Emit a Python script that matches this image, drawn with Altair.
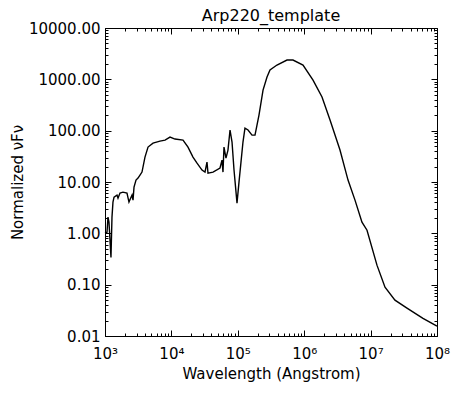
import altair as alt
import pandas as pd

# Spectrum
wavelength = [1000, 1072, 1109, 1148, 1230, 1274, 1318, 1368, 1517, 1570, 1683, 1866, 2143, 2296,
              2553, 2642, 2735, 2931, 3141, 3365, 3606, 4000, 4446, 5284, 6730, 8017, 9528, 11324,
              14962, 17783, 21135, 24322, 28907, 32063, 34356, 35563, 42364, 53951, 57810, 59841,
              61944, 66374, 71121, 76384, 81846, 87700, 97275, 104232, 111686, 119674, 128233,
              142561, 163682, 181551, 194536, 208449, 239883, 275423, 305492, 389045, 550808,
              677641, 959401, 1.358e6, 1.854e6, 2.449e6, 3.459e6, 4.571e6, 5.821e6, 7.413e6,
              8.831e6, 1.247e7, 1.648e7, 2.328e7, 3.532e7, 6.152e7, 1e8]
flux = [1.01, 1.05, 2.07, 1.65, 0.34, 2.07, 4.06, 5.08, 5.56, 4.85, 6.08, 6.35, 6.08, 4.06,
        5.56, 4.44, 7.96, 10.9, 11.9, 13.6, 15.6, 30.6, 47.9, 57.3, 62.7, 65.6, 75.0, 68.6,
        65.6, 47.9, 30.6, 23.3, 17.1, 15.6, 24.4, 14.9, 15.6, 18.7, 26.7, 15.6,
        47.9, 29.2, 41.9, 103, 60, 17.1, 3.88, 9.95, 24.4, 60, 112,
        103, 82, 82, 128, 201, 618, 1109, 1517, 1900, 2380,
        2380, 1900, 968, 452, 161, 41.9, 10.9, 4.44, 1.65,
        1.15, 0.24, 0.089, 0.050, 0.035, 0.022, 0.0155]

x_major = [1e3, 1e4, 1e5, 1e6, 1e7, 1e8]
x_labels = ["10³", "10⁴", "10⁵", "10⁶", "10⁷", "10⁸"]
y_major = [0.01, 0.1, 1, 10, 100, 1000, 10000]
x_minor = [k * 10.0 ** d for d in range(3, 8) for k in range(2, 10)]
y_minor = [k * 10.0 ** d for d in range(-2, 4) for k in range(2, 10)]

W, H = 332, 308
FONT = "DejaVu Sans"
MAJ, MIN = 6, 3  # inward tick lengths (px), drawn as dashed grid lines

xscale = alt.Scale(type="log", domain=[1e3, 1e8], nice=False)
yscale = alt.Scale(type="log", domain=[0.01, 10000], nice=False)

label_arr = "[" + ",".join(f"'{l}'" for l in x_labels) + "]"
is_major = "abs(log(datum.value)/LN10 - round(log(datum.value)/LN10)) < 0.001"

df = pd.DataFrame({"wavelength": wavelength, "flux": flux})


def tick_dash(length):
    return {"condition": {"test": is_major, "value": [MAJ, length - 2 * MAJ, MAJ]},
            "value": [MIN, length - 2 * MIN, MIN]}


# first layer: grid-only axes whose short dashes are the inward ticks (all four sides)
ticks = alt.Chart(df).mark_line(strokeOpacity=0).encode(
    x=alt.X("wavelength:Q", scale=xscale,
            axis=alt.Axis(values=x_major + x_minor, title=None, labels=False, domain=False,
                          ticks=False, grid=True, gridColor="black", gridOpacity=1,
                          gridWidth=1, gridDash=tick_dash(H), orient="top")),
    y=alt.Y("flux:Q", scale=yscale,
            axis=alt.Axis(values=y_major + y_minor, title=None, labels=False, domain=False,
                          ticks=False, grid=True, gridColor="black", gridOpacity=1,
                          gridWidth=1, gridDash=tick_dash(W), orient="right")),
)

common = dict(ticks=False, grid=False, labelFlush=False, domainColor="black",
              labelColor="black", titleColor="black", titleFontWeight="normal",
              labelFont=FONT, titleFont=FONT)

line = alt.Chart(df).mark_line(color="black", strokeWidth=1.4).encode(
    x=alt.X("wavelength:Q", scale=xscale,
            axis=alt.Axis(values=x_major, title="Wavelength (Angstrom)",
                          labelExpr=f"{label_arr}[round(log(datum.value)/LN10)-3]",
                          labelFontSize=15, titleFontSize=15, labelPadding=10,
                          titlePadding=5, **common)),
    y=alt.Y("flux:Q", scale=yscale,
            axis=alt.Axis(values=y_major, format=".2f", title="Normalized νFν",
                          labelFontSize=15, titleFontSize=15, labelPadding=5,
                          titlePadding=3, **common)),
)

chart = alt.layer(ticks, line).resolve_axis(x="independent", y="independent").properties(
    width=W, height=H,
    title=alt.TitleParams("Arp220_template", fontSize=16, font=FONT, fontWeight="normal",
                          color="black", offset=0, dy=3, anchor="middle"),
    autosize=alt.AutoSizeParams(type="none"),
    padding={"left": 97, "top": 20, "right": 27, "bottom": 50},
).configure_view(stroke="black", strokeWidth=1).configure_axis(domainWidth=1)

chart.save("out.html", embed_options={"renderer": "svg", "actions": False})
